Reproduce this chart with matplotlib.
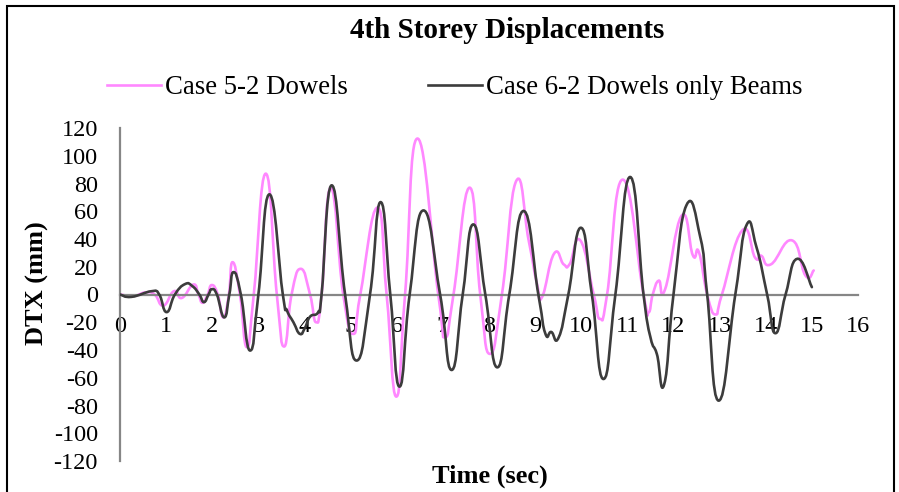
import numpy as np
import matplotlib
matplotlib.use('Agg')
import matplotlib.pyplot as plt
from matplotlib.path import Path
from matplotlib.patches import PathPatch, Rectangle
from matplotlib.lines import Line2D

plt.rcParams['font.family'] = ['Liberation Serif', 'DejaVu Serif']
plt.rcParams['axes.unicode_minus'] = False

# ── series (time in s, DTX in mm) ──
t_case5 = [0, 0.3, 0.55, 0.75, 0.94, 1.17, 1.34, 1.59, 1.7, 1.79,
           1.9, 1.99, 2.12, 2.24, 2.36, 2.44, 2.6, 2.75, 2.9, 3.16,
           3.4, 3.56, 3.72, 3.92, 4.12, 4.25, 4.37, 4.57, 4.84, 5.06,
           5.21, 5.58, 5.78, 5.99, 6.18, 6.45, 6.9, 7.05, 7.23, 7.58,
           7.81, 8.02, 8.28, 8.59, 8.86, 9.04, 9.15, 9.41, 9.62, 9.75,
           9.98, 10.27, 10.41, 10.56, 10.9, 11.35, 11.46, 11.55, 11.68, 11.82,
           12.18, 12.42, 12.55, 12.73, 12.91, 13.05, 13.49, 13.77, 13.9, 14.11,
           14.57, 14.86, 15.04]
dtx_case5 = [0, -1, 1.5, 0, -8, 2.4, -2.5, 7.2, 0, -6,
             0, 6.8, 0, -16.5, 0, 23.3, 0, -38, 0, 87.1,
             0, -37.5, 0, 18.5, 0, -20, 0, 77, 0, -28.4,
             0, 62.6, 0, -73.6, 0, 112.4, 0, -30.8, 0, 77,
             0, -42.8, 0, 81.8, 39, 7.7, -1.9, 29.4, 21.7, 22,
             39, 0, -17.6, 0, 82.8, 0, -12.8, 0, 10, 4,
             57, 28.2, 30.6, 0, -14.4, 0, 46.2, 26.5, 28, 21.7,
             39, 13.7, 17.3]

t_case6 = [0, 0.25, 0.69, 0.85, 1.01, 1.19, 1.41, 1.57, 1.72, 1.82,
           1.92, 1.99, 2.1, 2.26, 2.37, 2.46, 2.62, 2.82, 3.0, 3.24,
           3.53, 3.62, 3.76, 3.9, 4.01, 4.12, 4.3, 4.37, 4.59, 4.88,
           5.13, 5.42, 5.65, 5.86, 6.06, 6.28, 6.58, 6.94, 7.19, 7.43,
           7.66, 7.92, 8.18, 8.44, 8.75, 9.07, 9.22, 9.35, 9.51, 9.72,
           9.99, 10.23, 10.48, 10.74, 11.06, 11.35, 11.5, 11.64, 11.8, 12.0,
           12.28, 12.58, 12.73, 12.98, 13.34, 13.58, 13.8, 14.03, 14.21, 14.43,
           14.68, 15.0]
dtx_case6 = [0, -1.7, 2.4, 0, -12.7, 0, 7.5, 6, 0, -5.5,
             0, 3.8, 0, -16.5, 0, 16.1, 0, -40.4, 0, 72.2,
             0, -11.5, -20, -28.4, -24, -16, -12.5, 0, 78.7, 0,
             -47.6, 0, 66.6, 0, -66.4, 0, 60.6, 0, -54.4, 0,
             50.5, 0, -52.5, 0, 60.2, 0, -28, -27, -31, 0,
             48.1, 0, -60.9, 0, 84.7, 0, -30.8, -43, -64.5, 0,
             64.3, 41.4, 0, -76.5, 0, 49.8, 34, 0, -27.9, 0,
             25.7, 5.3]

labels = ['Case 5-2 Dowels', 'Case 6-2 Dowels only Beams']
colors = ['#ff88ff', '#3c3c3c']


def smooth_path(ax, x, y, k=4.0):
    """Smoothed line through the points (cubic Bezier segments)."""
    pts = ax.transData.transform(np.column_stack([x, y]))
    n = len(pts)
    verts = [pts[0]]
    codes = [Path.MOVETO]
    for i in range(n - 1):
        p0 = pts[max(i - 1, 0)]
        p1, p2 = pts[i], pts[i + 1]
        p3 = pts[min(i + 2, n - 1)]
        c1 = p1 + (p2 - p0) / k
        c2 = p2 - (p3 - p1) / k
        verts += [c1, c2, p2]
        codes += [Path.CURVE4] * 3
    return Path(ax.transData.inverted().transform(np.array(verts)), codes)


fig = plt.figure(figsize=(8.99, 4.92), dpi=100)
ax = fig.add_axes([120 / 899, 1 - 461 / 492, 738 / 899, 333 / 492])
ax.set_xlim(0, 16)
ax.set_ylim(-120, 120)

for spine in ['top', 'right']:
    ax.spines[spine].set_visible(False)
ax.spines['bottom'].set_position(('data', 0))
for spine in ['left', 'bottom']:
    ax.spines[spine].set_color('#868686')
    ax.spines[spine].set_linewidth(1.6)

ax.set_xticks(range(0, 17))
ax.set_yticks(range(-120, 121, 20))
ax.tick_params(axis='x', length=0, labelsize=17.5, pad=15.5)
ax.tick_params(axis='y', length=0, labelsize=17.5, pad=16)

for (t, v), c, z in zip([(t_case5, dtx_case5), (t_case6, dtx_case6)], colors, [2, 3]):
    ax.add_patch(PathPatch(smooth_path(ax, t, v), fill=False, edgecolor=c,
                           linewidth=1.9, zorder=z, capstyle='round', joinstyle='round'))

handles = [Line2D([], [], color=c, linewidth=1.9) for c in colors]
fig.legend(handles, labels, loc='center', bbox_to_anchor=(455 / 899, 1 - 88 / 492),
           ncol=2, frameon=False, fontsize=19.3, handlelength=2.0,
           handletextpad=0.15, columnspacing=3.0)

fig.text(507 / 899, 1 - 31 / 492, '4th Storey Displacements',
         ha='center', va='center', fontsize=21, fontweight='bold')
fig.text(37 / 899, 1 - 283 / 492, 'DTX (mm)', rotation=90,
         ha='center', va='center', fontsize=19, fontweight='bold')
fig.text(490 / 899, 1 - 476 / 492, 'Time (sec)',
         ha='center', va='center', fontsize=19, fontweight='bold')

# chart frame
fig.add_artist(Rectangle((7 / 899, -0.05), 887 / 899, 1.05 - 6 / 492,
                         transform=fig.transFigure, fill=False,
                         edgecolor='black', linewidth=1.5))

fig.savefig('out.png', dpi=100, facecolor='white')
